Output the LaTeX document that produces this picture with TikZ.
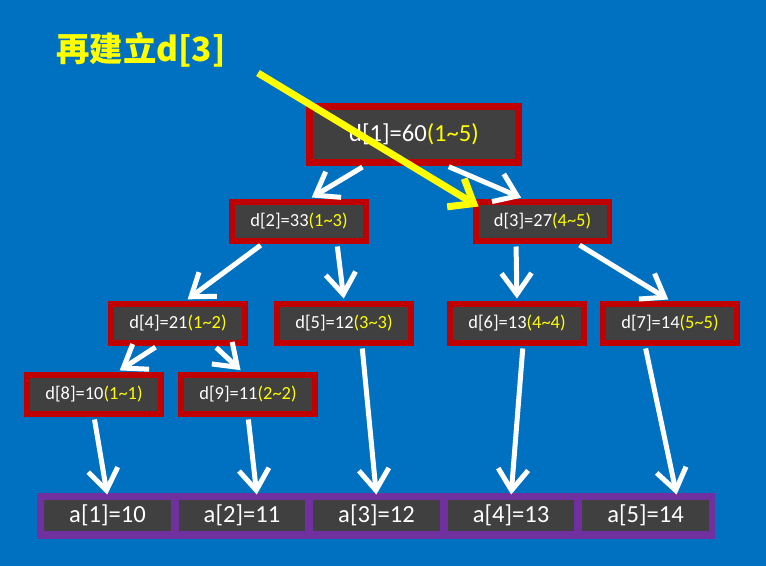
\documentclass[tikz,border=0pt]{standalone}
\usepackage{fontspec}
\setmainfont{Carlito}
\newfontfamily\cjk{Noto Sans CJK TC}
\usetikzlibrary{arrows.meta, calc}
\definecolor{bgblue}{HTML}{0070C0}
\definecolor{dred}{HTML}{C00000}
\definecolor{dgray}{HTML}{404040}
\definecolor{apurple}{HTML}{7030A0}
\definecolor{hiyellow}{HTML}{FFFF00}
\newcommand{\rng}[2]{\textcolor{hiyellow}{(#1\textasciitilde#2)}}

\begin{document}
\begin{tikzpicture}[
  x=0.02cm, y=-0.02cm,
  dbox/.style={draw=dred, fill=dgray, line width=0.12cm, inner sep=0pt,
    minimum width=2.68cm, minimum height=0.78cm, text=white,
    font=\fontsize{10.5}{12}\selectfont},
  rootbox/.style={dbox, line width=0.14cm, minimum width=4.2cm,
    minimum height=1.12cm, font=\fontsize{14}{16}\selectfont},
  acell/.style={fill=dgray, inner sep=0pt, outer sep=0.07cm,
    minimum width=2.54cm, minimum height=0.62cm, text=white,
    font=\fontsize{14}{16}\selectfont},
  arr/.style={white, line width=0.1cm,
    -{Straight Barb[length=0.42cm, width=0.6cm]},
    shorten <=0.06cm, shorten >=0.04cm},
  yarr/.style={hiyellow, line width=0.14cm,
    -{Straight Barb[length=0.42cm, width=0.66cm]}},
]
\fill[bgblue] (0,0) rectangle (766,566);
\useasboundingbox (0,0) rectangle (766,566);

% title
\node[text=hiyellow, font=\cjk\bfseries\fontsize{19}{22}\selectfont]
  (title) at (141,50) {再建立d[3]};

% segment tree nodes
\node[rootbox] (d1) at (414,134) {d[1]=60\rng{1}{5}};
\node[dbox] (d2) at (299,221) {d[2]=33\rng{1}{3}};
\node[dbox] (d3) at (542.5,221) {d[3]=27\rng{4}{5}};
\node[dbox] (d4) at (178,323) {d[4]=21\rng{1}{2}};
\node[dbox] (d5) at (344,323) {d[5]=12\rng{3}{3}};
\node[dbox] (d6) at (517,323) {d[6]=13\rng{4}{4}};
\node[dbox] (d7) at (670,323) {d[7]=14\rng{5}{5}};
\node[dbox] (d8) at (94,394) {d[8]=10\rng{1}{1}};
\node[dbox] (d9) at (248,394) {d[9]=11\rng{2}{2}};

% array a[]
\node[fill=apurple, minimum width=13.56cm, minimum height=0.92cm,
  inner sep=0pt] (frame) at (376,516) {};
\foreach \i/\v [evaluate=\i as \cx using {107.5+134.5*(\i-1)}]
    in {1/10, 2/11, 3/12, 4/13, 5/14}
  \node[acell] (a\i) at (\cx,515.5) {a[\i]=\v};

% tree edges
\draw[arr] ([xshift=-0.98cm]d1.south) -- ([xshift=0.22cm]d2.north);
\draw[arr] ([xshift=0.64cm]d1.south) -- ([xshift=-0.39cm]d3.north);
\draw[arr] ([xshift=-0.72cm]d2.south) -- ([xshift=0.16cm]d4.north);
\draw[arr] ([xshift=0.76cm]d2.south) -- (d5.north);
\draw[arr] ([xshift=-0.53cm]d3.south) -- (d6.north);
\draw[arr] ([xshift=0.69cm]d3.south) -- (d7.north);
\draw[arr] ([xshift=-0.4cm]d4.south) -- ([xshift=0.48cm]d8.north);
\draw[arr] ([xshift=0.72cm]d4.south) -- ([xshift=-0.12cm]d9.north);
% leaves to array
\draw[arr] (d8.south) -- (a1.north);
\draw[arr] (d9.south) -- ([xshift=0.3cm]a2.north);
\draw[arr] ([xshift=0.36cm]d5.south) -- (a3.north);
\draw[arr] ([xshift=0.12cm]d6.south) -- (a4.north);
\draw[arr] ([xshift=-0.5cm]d7.south) -- ([xshift=0.63cm]a5.north);

% pointer to d[3]
\coordinate (ystart) at (258,73);
\draw[yarr] (ystart) -- ([shift={(0.12cm,-0.16cm)}]d3.north west);
\end{tikzpicture}
\end{document}
